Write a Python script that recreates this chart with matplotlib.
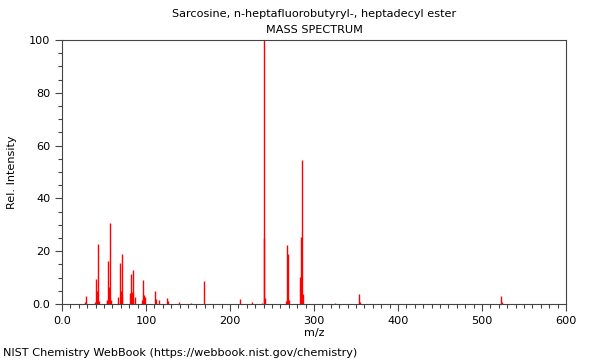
import matplotlib
matplotlib.use("Agg")
import matplotlib.pyplot as plt
from matplotlib.ticker import MultipleLocator, FixedLocator

title = "Sarcosine, n-heptafluorobutyryl-, heptadecyl ester"
subtitle = "MASS SPECTRUM"
footer = "NIST Chemistry WebBook (https://webbook.nist.gov/chemistry)"

mz = [27, 29, 39, 41, 42, 43, 44, 53, 54, 55, 56, 57, 58,
      67, 69, 70, 71, 72, 81, 82, 83, 84, 85, 87,
      95, 96, 97, 98, 99, 111, 112, 116, 125, 126, 139, 153, 169,
      212, 226, 238, 240, 241, 242, 267, 268, 269, 270,
      283, 284, 285, 286, 287, 325, 354, 355, 523, 524]
intensity = [0.9, 3.2, 0.8, 9.5, 5.0, 22.8, 1.0, 1.0, 1.5, 16.3, 6.6, 30.5, 1.5,
             2.8, 15.4, 5.0, 18.8, 3.0, 4.0, 11.4, 4.5, 2.0, 12.9, 2.8,
             1.5, 2.0, 9.0, 3.4, 2.5, 4.9, 2.0, 1.5, 2.4, 1.0, 0.8, 0.4, 8.7,
             1.8, 0.8, 0.5, 100.0, 25.0, 2.1, 1.3, 22.3, 19.0, 1.5,
             10.3, 1.5, 25.5, 54.5, 3.8, 0.5, 3.8, 0.6, 3.1, 0.6]

x_ticks = [0, 100, 200, 300, 400, 500, 600]
x_labels = ["0.0", "100", "200", "300", "400", "500", "600"]
y_ticks = [0, 20, 40, 60, 80, 100]
y_labels = ["0.0", "20", "40", "60", "80", "100"]

fs = 8.15
fig = plt.figure(figsize=(6, 3.6), dpi=100)
ax = fig.add_axes([62/600, 1-304/360, 504/600, 264/360])

ax.vlines(mz, 0, intensity, colors="#ff0000", linewidth=1.0)

ax.set_xlim(0, 600)
ax.set_ylim(0, 100)
ax.xaxis.set_major_locator(FixedLocator(x_ticks))
ax.set_xticklabels(x_labels)
ax.yaxis.set_major_locator(FixedLocator(y_ticks))
ax.set_yticklabels(y_labels)
ax.xaxis.set_minor_locator(MultipleLocator(10))
ax.yaxis.set_minor_locator(MultipleLocator(5))
ax.tick_params(which="major", length=5, width=0.8, labelsize=fs, color="#444444")
ax.tick_params(which="minor", length=3, width=0.8, color="#444444")
for s in ax.spines.values():
    s.set_color("#444444")
    s.set_linewidth(0.8)

ax.set_xlabel("m/z", fontsize=fs)
ax.set_ylabel("Rel. Intensity", fontsize=fs)
ax.yaxis.set_label_coords((12-62)/504, 0.5)
ax.xaxis.set_label_coords(0.5, (304-333)/264)
ax.xaxis.label.set_va("center")
ax.yaxis.label.set_va("center")

fig.text(314/600, 1-14/360, title, ha="center", va="center", fontsize=fs)
fig.text(314/600, 1-30/360, subtitle, ha="center", va="center", fontsize=fs)
fig.text(3/600, 1-353/360, footer, ha="left", va="center", fontsize=fs)

fig.savefig("out.png", dpi=100)
